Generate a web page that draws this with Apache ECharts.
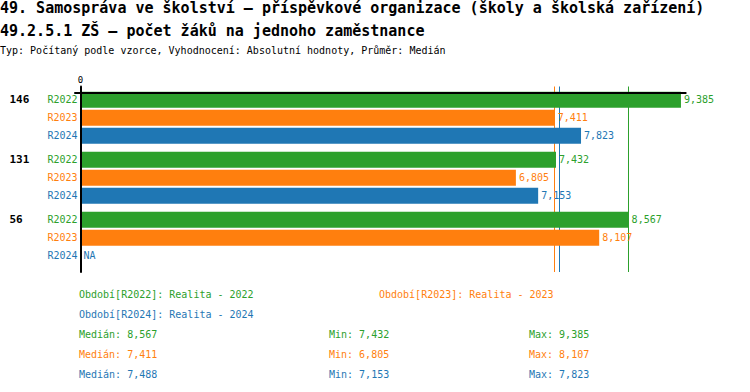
<!DOCTYPE html>
<html>
<head>
<meta charset="utf-8">
<script src="https://cdn.jsdelivr.net/npm/echarts@6/dist/echarts.min.js"></script>
<style>
html,body{margin:0;padding:0;background:#fff;}
#chart{width:750px;height:392px;}
</style>
</head>
<body>
<div id="chart"></div>
<script>
// ---- data ----
const titleLine1 = '49. Samospráva ve školství – příspěvkové organizace (školy a školská zařízení)';
const titleLine2 = '49.2.5.1 ZŠ – počet žáků na jednoho zaměstnance';
const subtitle = 'Typ: Počítaný podle vzorce, Vyhodnocení: Absolutní hodnoty, Průměr: Medián';
const categories = ['146', '131', '56'];
const periods = ['R2022', 'R2023', 'R2024'];
const periodNames = ['Realita - 2022', 'Realita - 2023', 'Realita - 2024'];
const r2022 = [9385, 7432, 8567];
const r2023 = [7411, 6805, 8107];
const r2024 = [7823, 7153, null];
const colors = ['#2ca02c', '#ff7f0e', '#1f77b4'];
const axisMax = 9456;

// ---- helpers ----
const seriesValues = [r2022, r2023, r2024];
const MONO = 'DejaVu Sans Mono';
const fmt = v => v.toLocaleString('en-US');
function median(arr) {
  const a = arr.filter(v => v != null).sort((x, y) => x - y);
  const n = a.length;
  return n % 2 ? a[(n - 1) / 2] : (a[n / 2 - 1] + a[n / 2]) / 2;
}
const stats = seriesValues.map(arr => {
  const a = arr.filter(v => v != null);
  return { med: median(arr), min: Math.min(...a), max: Math.max(...a) };
});

const PLOT_LEFT = 80.5, PLOT_W = 605;
const grid = [], xAxis = [], yAxis = [], series = [];

categories.forEach((cat, g) => {
  grid.push({ left: PLOT_LEFT, width: PLOT_W, top: 90.7 + 60 * g, height: 54 });
  xAxis.push({ gridIndex: g, type: 'value', min: 0, max: axisMax, show: false });
  yAxis.push({
    gridIndex: g, type: 'category', inverse: true, data: periods,
    axisLine: { show: false }, axisTick: { show: false },
    axisLabel: { margin: 3, fontFamily: MONO, fontSize: 10, color: (v, i) => colors[i] }
  });
  yAxis.push({
    gridIndex: g, type: 'category', inverse: true, position: 'left',
    data: [cat, '', ''],
    axisLine: { show: false }, axisTick: { show: false },
    axisLabel: { align: 'left', margin: 71, fontFamily: MONO, fontSize: 11, fontWeight: 'bold', color: '#000' }
  });
  series.push({
    type: 'bar', xAxisIndex: g, yAxisIndex: 2 * g, barWidth: 16, z: 2,
    data: periods.map((p, i) => {
      const v = seriesValues[i][g];
      return {
        value: v == null ? 0 : v,
        na: v == null,
        itemStyle: { color: colors[i] },
        label: { color: colors[i] }
      };
    }),
    label: {
      show: true, position: 'right', distance: 3,
      fontFamily: MONO, fontSize: 10,
      formatter: p => p.data.na ? 'NA' : fmt(p.value)
    }
  });
});

// grid 3: zero axis line, "0" label, median lines
grid.push({ left: PLOT_LEFT, width: PLOT_W, top: 86.5, height: 185.5 });
xAxis.push({
  gridIndex: 3, type: 'value', min: 0, max: axisMax, interval: axisMax, position: 'top',
  axisLine: { show: false }, axisTick: { show: false }, splitLine: { show: false },
  axisLabel: { margin: 2, fontFamily: MONO, fontSize: 9, color: '#000', showMaxLabel: false,
    formatter: v => v === 0 ? '0' : '' }
});
yAxis.push({
  gridIndex: 3, type: 'value', min: 0, max: 1, z: 10,
  axisLine: { show: true, lineStyle: { color: '#000', width: 2 } },
  axisTick: { show: false }, axisLabel: { show: false }, splitLine: { show: false }
});
series.push({
  type: 'line', xAxisIndex: 3, yAxisIndex: 6, data: [], showSymbol: false, z: 1,
  markLine: {
    silent: true, symbol: ['none', 'none'], label: { show: false }, z: 1,
    data: stats.map((s, i) => ({ xAxis: s.med, lineStyle: { color: colors[i], width: 1, type: 'solid' } }))
  }
});

// grid 4: top horizontal axis line
grid.push({ left: 75, width: 610.7, top: 92.5, height: 10 });
xAxis.push({
  gridIndex: 4, type: 'value', min: 0, max: 1, position: 'top', z: 10,
  axisLine: { show: true, onZero: false, lineStyle: { color: '#000', width: 2 } },
  axisTick: { show: false }, axisLabel: { show: false }, splitLine: { show: false }
});
yAxis.push({ gridIndex: 4, type: 'value', show: false });

// texts
const title = [
  { text: titleLine1, left: 0, top: 0, padding: 0,
    textStyle: { fontFamily: MONO, fontSize: 15, fontWeight: 'bold', color: '#000' } },
  { text: titleLine2, left: 0, top: 23, padding: 0,
    textStyle: { fontFamily: MONO, fontSize: 15, fontWeight: 'bold', color: '#000' } },
  { text: subtitle, left: 0, top: 45, padding: 0,
    textStyle: { fontFamily: MONO, fontSize: 10, fontWeight: 'normal', color: '#000' } }
];
const legendPos = [[79, 289], [379, 289], [79, 309]];
periods.forEach((p, i) => {
  title.push({ text: 'Období[' + p + ']: ' + periodNames[i], left: legendPos[i][0], top: legendPos[i][1], padding: 0,
    textStyle: { fontFamily: MONO, fontSize: 10, fontWeight: 'normal', color: colors[i] } });
});
stats.forEach((s, i) => {
  const top = 329 + 20 * i;
  const ts = { fontFamily: MONO, fontSize: 10, fontWeight: 'normal', color: colors[i] };
  title.push({ text: 'Medián: ' + fmt(s.med), left: 79, top, padding: 0, textStyle: ts });
  title.push({ text: 'Min: ' + fmt(s.min), left: 329, top, padding: 0, textStyle: ts });
  title.push({ text: 'Max: ' + fmt(s.max), left: 529, top, padding: 0, textStyle: ts });
});

const chart = echarts.init(document.getElementById('chart'), null, { renderer: 'svg' });
chart.setOption({
  animation: false,
  backgroundColor: '#fff',
  title, grid, xAxis, yAxis, series
});
</script>
</body>
</html>
